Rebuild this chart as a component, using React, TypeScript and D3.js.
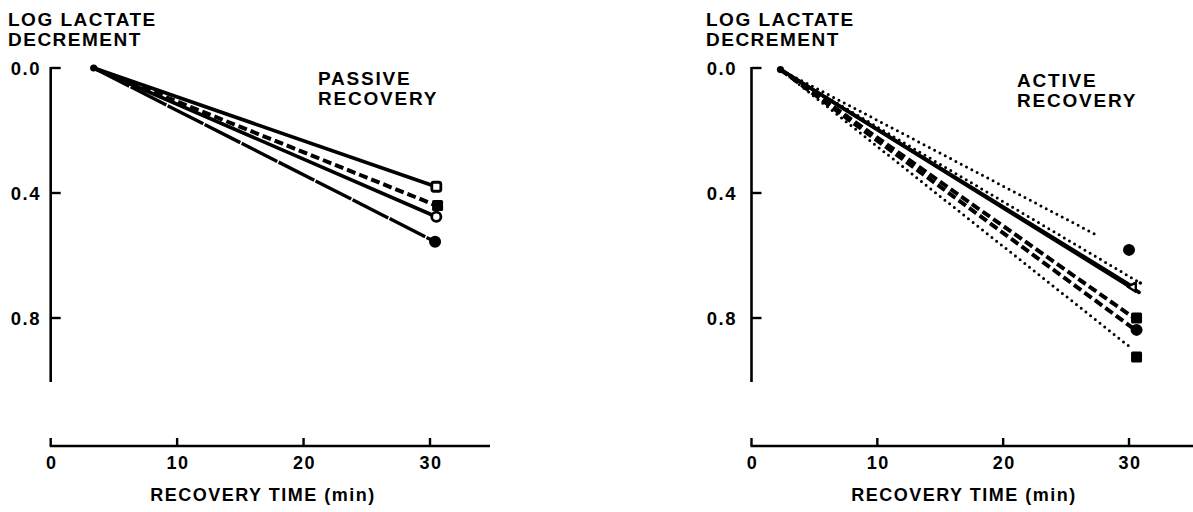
import React from "react";
import * as d3 from "d3";

// ---- data ----
const xTicks = [0, 10, 20, 30];
const yTicks = [0.0, 0.4, 0.8];
const yTickLabels = ["0.0", "0.4", "0.8"];
const xTickLabels = ["0", "10", "20", "30"];

// Passive recovery: lines from a common start to each subject's 30-min value
const passiveStartX = 3.4;
const passiveStartY = 0.0;
const passiveEndX = [30.5, 30.5, 30.5, 30.4];
const passiveEndY = [0.38, 0.44, 0.476, 0.556];
const passiveMarkX = [30.5, 30.6, 30.5, 30.4];
const passiveMarkY = [0.38, 0.44, 0.476, 0.556];

// Active recovery
const activeStartX = 2.3;
const activeStartY = 0.005;
const activeEndX = [27.4, 30.3, 30.8, 30.9, 30.4, 30.4, 30.3];
const activeEndY = [0.534, 0.7, 0.718, 0.688, 0.8, 0.835, 0.9];
const activeMarkX = [30.0, 30.3, 30.9, 30.6, 30.6, 30.6];
const activeMarkY = [0.582, 0.703, 0.688, 0.8, 0.838, 0.925];

// ---- styling (kept apart from the data) ----
const passiveLineStyle = ["solid", "dashed", "solid", "longdash"];
const passiveMarkerType = ["openSquare", "filledSquare", "openCircle", "filledCircle"];
const activeLineStyle = ["dotted", "solid", "solid", "dotted", "dashed", "dashed", "dotted"];
const activeMarkerType = ["filledCircle", "openTriangle", "dot", "filledSquare", "filledCircle", "filledSquare"];

const FONT = "'Liberation Sans', Arial, Helvetica, sans-serif";

function strokeProps(style: string) {
  switch (style) {
    case "dashed":
      return { strokeWidth: 4, strokeDasharray: "9,4", strokeLinecap: "butt" as const };
    case "longdash":
      return { strokeWidth: 3.4, strokeDasharray: "40,1.5", strokeLinecap: "butt" as const };
    case "dotted":
      return { strokeWidth: 3, strokeDasharray: "0,6", strokeLinecap: "round" as const };
    default:
      return { strokeWidth: 3.6, strokeLinecap: "round" as const };
  }
}

function Marker({ type, x, y }: { type: string; x: number; y: number }) {
  switch (type) {
    case "openSquare":
      return <rect x={x - 4.5} y={y - 4.5} width={9} height={9} rx={2} fill="#fff" stroke="#000" strokeWidth={2.8} />;
    case "filledSquare":
      return <rect x={x - 5.5} y={y - 5.5} width={11} height={11} rx={1.5} fill="#000" />;
    case "openCircle":
      return <circle cx={x} cy={y} r={4.6} fill="#fff" stroke="#000" strokeWidth={2.8} />;
    case "filledCircle":
      return <circle cx={x} cy={y} r={6} fill="#000" />;
    case "openTriangle":
      return (
        <path
          d={`M${x - 5},${y - 1} L${x + 3},${y - 5} L${x + 3},${y + 4} Z`}
          fill="#fff"
          stroke="#000"
          strokeWidth={2.4}
          strokeLinejoin="round"
        />
      );
    case "dot":
      return <circle cx={x} cy={y} r={1.8} fill="#000" />;
    default:
      return null;
  }
}

interface PanelProps {
  x0: number;
  x30: number;
  headerX: number;
  tickLabelRight: number;
  axisEnd: number;
  titleX: number;
  label1: string;
  label2: string;
  labelX: number;
  labelY: number;
  startX: number;
  startY: number;
  endX: number[];
  endY: number[];
  styles: string[];
  markX: number[];
  markY: number[];
  markTypes: string[];
}

function Panel(p: PanelProps) {
  const x = d3.scaleLinear().domain([0, 30]).range([p.x0, p.x30]);
  const y = d3.scaleLinear().domain([0, 0.8]).range([68, 318]);
  const axisX = p.x0;
  const xAxisY = 446;
  const line = d3.line<[number, number]>().x((d) => x(d[0])).y((d) => y(d[1]));
  return (
    <g>
      {/* header */}
      <text x={p.headerX} y={26} fontFamily={FONT} fontWeight={700} fontSize={19} letterSpacing={1.5}>
        LOG LACTATE
      </text>
      <text x={p.headerX} y={46} fontFamily={FONT} fontWeight={700} fontSize={19} letterSpacing={1.5}>
        DECREMENT
      </text>
      {/* y axis */}
      <line x1={axisX} x2={axisX} y1={y(0) - 1} y2={382} stroke="#000" strokeWidth={2.6} />
      {yTicks.map((t, i) => (
        <g key={"yt" + i}>
          <line x1={axisX} x2={axisX + 10} y1={y(t)} y2={y(t)} stroke="#000" strokeWidth={2.4} />
          <text
            x={p.tickLabelRight}
            y={y(t) + 7}
            textAnchor="end"
            fontFamily={FONT}
            fontWeight={700}
            fontSize={18.5}
            letterSpacing={1.5}
          >
            {yTickLabels[i]}
          </text>
        </g>
      ))}
      {/* x axis */}
      <line x1={axisX - 1} x2={p.axisEnd} y1={xAxisY} y2={xAxisY} stroke="#000" strokeWidth={2.4} />
      {xTicks.map((t, i) => (
        <g key={"xt" + i}>
          <line x1={x(t)} x2={x(t)} y1={xAxisY} y2={xAxisY - 8} stroke="#000" strokeWidth={2.4} />
          <text
            x={x(t) + 1}
            y={468.5}
            textAnchor="middle"
            fontFamily={FONT}
            fontWeight={700}
            fontSize={18}
            letterSpacing={1.5}
          >
            {xTickLabels[i]}
          </text>
        </g>
      ))}
      <text
        x={p.titleX}
        y={500.5}
        textAnchor="middle"
        fontFamily={FONT}
        fontWeight={700}
        fontSize={18}
        letterSpacing={1.5}
      >
        RECOVERY TIME (min)
      </text>
      {/* panel label */}
      <text x={p.labelX} y={p.labelY} fontFamily={FONT} fontWeight={700} fontSize={19} letterSpacing={1.8}>
        {p.label1}
      </text>
      <text x={p.labelX} y={p.labelY + 20} fontFamily={FONT} fontWeight={700} fontSize={19} letterSpacing={1.8}>
        {p.label2}
      </text>
      {/* lines */}
      {p.endX.map((ex, i) => (
        <path
          key={"l" + i}
          d={line([
            [p.startX, p.startY],
            [ex, p.endY[i]],
          ]) as string}
          fill="none"
          stroke="#000"
          {...strokeProps(p.styles[i])}
        />
      ))}
      {/* start blob */}
      <circle cx={x(p.startX)} cy={y(p.startY)} r={3.6} fill="#000" />
      {/* markers */}
      {p.markX.map((mx, i) => (
        <Marker key={"m" + i} type={p.markTypes[i]} x={x(mx)} y={y(p.markY[i])} />
      ))}
    </g>
  );
}

export default function App() {
  return (
    <svg
      width={1193}
      height={512}
      viewBox="0 0 1193 512"
      style={{ position: "absolute", left: 0, top: 0, display: "block", background: "#fff" }}
    >
      <rect x={0} y={0} width={1193} height={512} fill="#fff" />
      <Panel
        x0={50.7}
        x30={430}
        headerX={8}
        tickLabelRight={41}
        axisEnd={490}
        titleX={263}
        label1="PASSIVE"
        label2="RECOVERY"
        labelX={318}
        labelY={85}
        startX={passiveStartX}
        startY={passiveStartY}
        endX={passiveEndX}
        endY={passiveEndY}
        styles={passiveLineStyle}
        markX={passiveMarkX}
        markY={passiveMarkY}
        markTypes={passiveMarkerType}
      />
      <Panel
        x0={751.5}
        x30={1129}
        headerX={706}
        tickLabelRight={737}
        axisEnd={1193}
        titleX={964}
        label1="ACTIVE"
        label2="RECOVERY"
        labelX={1017}
        labelY={87}
        startX={activeStartX}
        startY={activeStartY}
        endX={activeEndX}
        endY={activeEndY}
        styles={activeLineStyle}
        markX={activeMarkX}
        markY={activeMarkY}
        markTypes={activeMarkerType}
      />
    </svg>
  );
}
